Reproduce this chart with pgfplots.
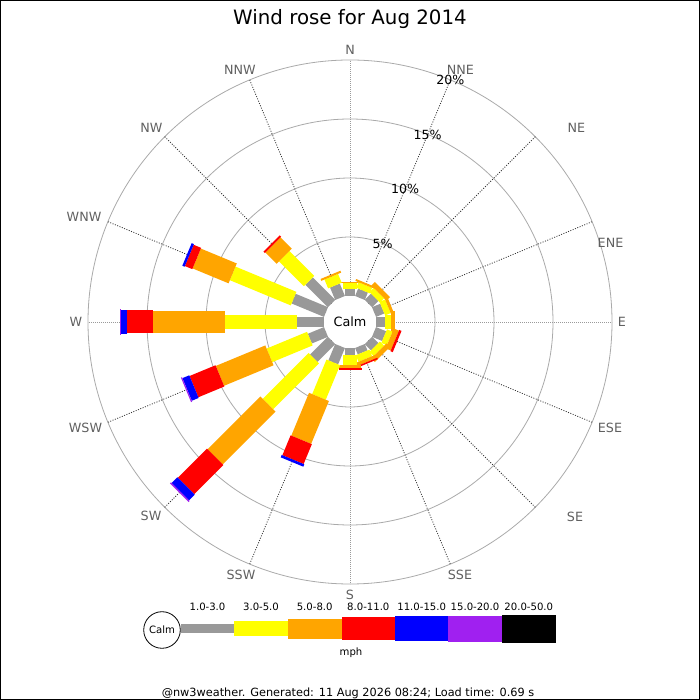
\documentclass[border=0pt]{standalone}
\usepackage{fontspec}
\setmainfont{DejaVu Sans}
\usepackage{pgfplots}
\pgfplotsset{compat=1.18}
\definecolor{cgray}{HTML}{999999}
\definecolor{cyel}{HTML}{FFFF00}
\definecolor{corg}{HTML}{FFA500}
\definecolor{cred}{HTML}{FF0000}
\definecolor{cblue}{HTML}{0000FF}
\definecolor{cpur}{HTML}{A020F0}
\definecolor{ringgray}{HTML}{AAAAAA}
\definecolor{spokedark}{HTML}{333333}
\definecolor{spokelight}{HTML}{9A9A9A}
\definecolor{labgray}{HTML}{606060}
\newcommand\fs[1]{\fontsize{#1bp}{#1bp}\selectfont}
% one segment of a petal: colour, width, angle, from %, to %
\newcommand\seg[5]{\addplot[draw=#1, line width=#2, data cs=polar, forget plot]
  table[row sep=\\, x=a, y expr={26+11.8*\thisrow{r}}] {a r\\ #3 #4\\ #3 #5\\};}
% a petal: angle, cumulative % at the end of 1-3, 3-5, 5-8, 8-11, 11-15, 15-20 mph
\newcommand\petal[7]{%
  \seg{cgray}{10.5bp}{#1}{0}{#2}%
  \seg{cyel}{14.7bp}{#1}{#2}{#3}%
  \seg{corg}{21.5bp}{#1}{#3}{#4}%
  \seg{cred}{23bp}{#1}{#4}{#5}%
  \seg{cblue}{24.5bp}{#1}{#5}{#6}%
  \seg{cpur}{26.5bp}{#1}{#6}{#7}}
\begin{document}
\begin{tikzpicture}[x=1bp,y=1bp]
\path[use as bounding box] (0,0) rectangle (700,700);
\fill[white] (0,0) rectangle (700,700);
% rings
\foreach \r in {85,144,203,262}
  \draw[ringgray, line width=0.8bp] (350,378) circle[radius=\r];
% spokes
\foreach \a in {22.5,45,67.5,112.5,135,157.5,202.5,225,247.5,292.5,315,337.5}
  \draw[spokedark, line width=0.8bp, dash pattern=on 1bp off 1.5bp]
    ([shift={(350,378)}]\a:26) -- ([shift={(350,378)}]\a:262);
\foreach \a in {0,90,180,270}
  \draw[spokelight, line width=0.8bp, dash pattern=on 1bp off 1bp]
    ([shift={(350,378)}]\a:26) -- ([shift={(350,378)}]\a:262);

\begin{axis}[at={(350,378)}, anchor=center, x=1bp, y=1bp,
  xmin=-300, xmax=300, ymin=-300, ymax=300, hide axis, clip=false]
\petal{90}{0.59}{1.08}{1.21}{1.21}{1.21}{1.21}
\petal{67.5}{0.68}{1.19}{1.36}{1.36}{1.36}{1.36}
\petal{45}{0.76}{1.27}{1.69}{1.69}{1.69}{1.69}
\petal{22.5}{0.76}{1.27}{1.53}{1.53}{1.53}{1.53}
\petal{0}{0.76}{1.31}{1.61}{1.61}{1.61}{1.61}
\petal{-22.5}{0.93}{1.44}{1.91}{2.12}{2.12}{2.12}
\petal{-45}{0.76}{1.27}{1.69}{1.69}{1.69}{1.69}
\petal{-67.5}{0.59}{1.19}{1.48}{1.61}{1.61}{1.61}
\petal{-90}{0.59}{1.44}{1.67}{1.84}{1.84}{1.84}
\petal{-112.5}{1.50}{4.67}{8.60}{10.42}{10.64}{10.64}
\petal{-135}{2.14}{7.63}{13.96}{17.45}{18.14}{18.26}
\petal{-157.5}{1.48}{5.19}{9.73}{12.11}{12.74}{12.84}
\petal{180}{2.31}{8.39}{14.47}{16.67}{17.23}{17.33}
\petal{157.5}{2.97}{8.56}{11.86}{12.54}{12.75}{12.75}
\petal{135}{2.71}{5.68}{7.03}{7.20}{7.20}{7.20}
\petal{112.5}{1.14}{1.95}{2.12}{2.12}{2.12}{2.12}
\end{axis}

% centre
\node[font=\fs{12.8}] at (350,378) {Calm};
% percent labels
\foreach \r/\t in {85/5, 144/10, 203/15, 262/20}
  \node[font=\fs{12.6}, inner sep=0pt] at ([shift={(350,378)}]67.5:\r) {\t\%};
% compass labels
\begin{scope}[every node/.style={font=\fs{12.7}, text=labgray, inner sep=0pt}]
\node at (350,650) {N};
\node at (460.5,630.5) {NNE};
\node at (576.5,572) {NE};
\node at (610.5,457) {ENE};
\node at (622,378) {E};
\node at (610,272) {ESE};
\node at (575,183) {SE};
\node at (460,125) {SSE};
\node at (350,105) {S};
\node at (241,125) {SSW};
\node at (151,184) {SW};
\node at (85.5,272) {WSW};
\node at (76,378) {W};
\node at (84,483) {WNW};
\node at (151.5,572) {NW};
\node at (240,630.5) {NNW};
\end{scope}
% title
\node[font=\fs{19.8}, anchor=base] at (350,675.5) {Wind rose for Aug 2014};
% legend
\fill[cgray] (180.7,66.5) rectangle (234.3,75.5);
\fill[cyel] (234.3,63.5) rectangle (287.7,78.5);
\fill[corg] (287.7,60.65) rectangle (341.7,81.35);
\fill[cred] (341.7,59.5) rectangle (395,82.5);
\fill[cblue] (395,58.5) rectangle (448.3,83.5);
\fill[cpur] (448.3,57.65) rectangle (501.7,84.35);
\fill[black] (501.7,56.85) rectangle (556,85.15);
\draw[black, fill=white, line width=0.8bp] (162,70) circle[radius=18.3];
\node[font=\fs{10.1}] at (162,70) {Calm};
\begin{scope}[every node/.style={font=\fs{10.1}, inner sep=0pt}]
\node at (207.5,93) {1.0-3.0};
\node at (261,93) {3.0-5.0};
\node at (314.7,93) {5.0-8.0};
\node at (368.3,93) {8.0-11.0};
\node at (421.7,93) {11.0-15.0};
\node at (475,93) {15.0-20.0};
\node at (528.8,93) {20.0-50.0};
\node at (351,47) {mph};
\end{scope}
\node[font=\fs{11.3}, anchor=base, inner sep=0pt] at (348,3.5) {@nw3weather. Generated: 11 Aug 2026 08:24; Load time: 0.69 s};
% frame
\draw[black, line width=1bp] (0.5,0.5) rectangle (699.5,699.5);
\end{tikzpicture}
\end{document}
